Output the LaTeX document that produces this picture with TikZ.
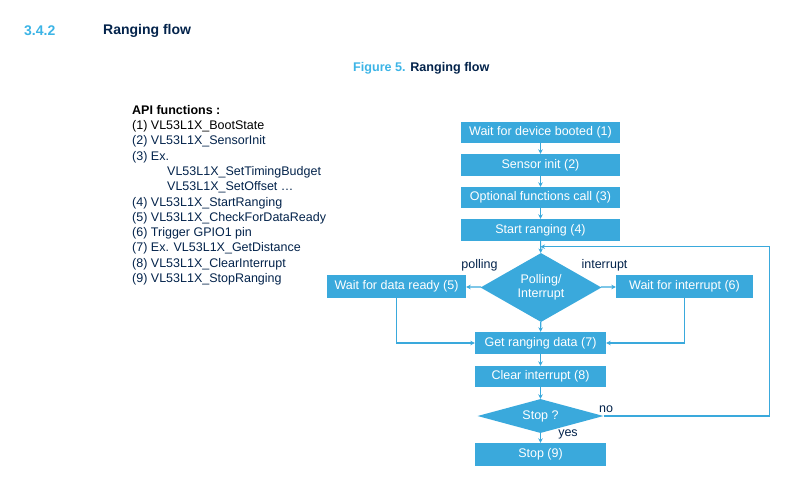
\documentclass[tikz,border=0pt]{standalone}
\usepackage{fontspec}
\setmainfont{Liberation Sans}
\usetikzlibrary{shapes.geometric,arrows.meta}
\definecolor{stblue}{HTML}{3AA9DC}
\definecolor{stnavy}{HTML}{03234B}
\definecolor{sttitle}{HTML}{3CB4E6}
\tikzset{
  stepbox/.style={fill=stblue,text=white,inner sep=0pt,minimum height=22pt,font=\fontsize{12.5}{14}\selectfont},
  choice/.style={diamond,aspect=2,fill=stblue,text=white,inner sep=0pt,align=center,font=\fontsize{12.5}{14}\selectfont},
  flow/.style={draw=stblue,line width=1.2pt,-{Stealth[length=4.5pt,width=4.5pt]}},
  branch/.style={text=stnavy,font=\fontsize{12.5}{14}\selectfont}
}
\begin{document}
\begin{tikzpicture}[x=1pt,y=-1pt]
  \useasboundingbox (0,0) rectangle (808,488);
  % headings
  \node[anchor=west,inner sep=0pt,text=sttitle,font=\bfseries\fontsize{14}{16}\selectfont] (secnum) at (24,31) {3.4.2};
  \node[anchor=west,inner sep=0pt,text=stnavy,font=\bfseries\fontsize{14}{16}\selectfont] (sectitle) at (103,31) {Ranging flow};
  \node[anchor=west,inner sep=0pt,font=\bfseries\fontsize{12.6}{15}\selectfont] (caption) at (353,68) {\textcolor{sttitle}{Figure 5.} \textcolor{stnavy}{Ranging flow}};
  % API list
  \node[anchor=north west,align=left,inner sep=0pt,text=stnavy,font=\fontsize{12.5}{15.3}\selectfont] (api) at (132,105)
    {\textcolor{black}{\textbf{API functions :}}\\
     \textcolor{black}{(1) VL53L1X\_BootState}\\
     (2) VL53L1X\_SensorInit\\
     (3) Ex.\\
     \hspace*{35pt}VL53L1X\_SetTimingBudget\\
     \hspace*{35pt}VL53L1X\_SetOffset \dots\\
     (4) VL53L1X\_StartRanging\\
     (5) VL53L1X\_CheckForDataReady\\
     (6) Trigger GPIO1 pin\\
     (7) Ex. VL53L1X\_GetDistance\\
     (8) VL53L1X\_ClearInterrupt\\
     (9) VL53L1X\_StopRanging};
  % flow
  \node[stepbox,minimum width=159pt,minimum height=21pt] (boot) at (540.5,132.5) {Wait for device booted (1)};
  \node[stepbox,minimum width=159pt] (init) at (540.5,165) {Sensor init (2)};
  \node[stepbox,minimum width=159pt,minimum height=21pt] (opt) at (540.5,197.5) {Optional functions call (3)};
  \node[stepbox,minimum width=159pt] (start) at (540.5,230) {Start ranging (4)};
  \node[choice,minimum width=121pt,minimum height=69pt] (mode) at (541,287.5) {Polling/\\Interrupt};
  \node[stepbox,minimum width=139pt,minimum height=23pt] (poll) at (396.5,286.5) {Wait for data ready (5)};
  \node[stepbox,minimum width=137pt,minimum height=23pt] (irq) at (684.5,286.5) {Wait for interrupt (6)};
  \node[stepbox,minimum width=131pt] (get) at (540.5,343) {Get ranging data (7)};
  \node[stepbox,minimum width=131pt,minimum height=21pt] (clear) at (540.5,376.5) {Clear interrupt (8)};
  \node[choice,minimum width=126pt,minimum height=34pt] (stop) at (540.5,416) {Stop ?};
  \node[stepbox,minimum width=131pt,minimum height=23pt] (end) at (540.5,454.5) {Stop (9)};
  \draw[flow] (boot) -- (init);
  \draw[flow] (init) -- (opt);
  \draw[flow] (opt) -- (start);
  \draw[flow] (start) -- (mode);
  \draw[flow] (mode) -- (poll);
  \draw[flow] (mode) -- (irq);
  \draw[flow] (mode) -- (get);
  \draw[flow] (poll.south) |- (get.west);
  \draw[flow] (irq.south) |- (get.east);
  \draw[flow] (get) -- (clear);
  \draw[flow] (clear) -- (stop);
  \draw[flow] (stop) -- (end);
  \path (start.south) ++(0,5.5) coordinate (join);
  \draw[flow] (stop.east) -- ++(166,0) |- (join);
  % branch labels
  \node[branch] (lpoll) at (479.5,265) {polling};
  \node[branch] (lirq) at (604.5,265) {interrupt};
  \node[branch] (lno) at (606,409) {no};
  \node[branch] (lyes) at (568,434) {yes};
\end{tikzpicture}
\end{document}
